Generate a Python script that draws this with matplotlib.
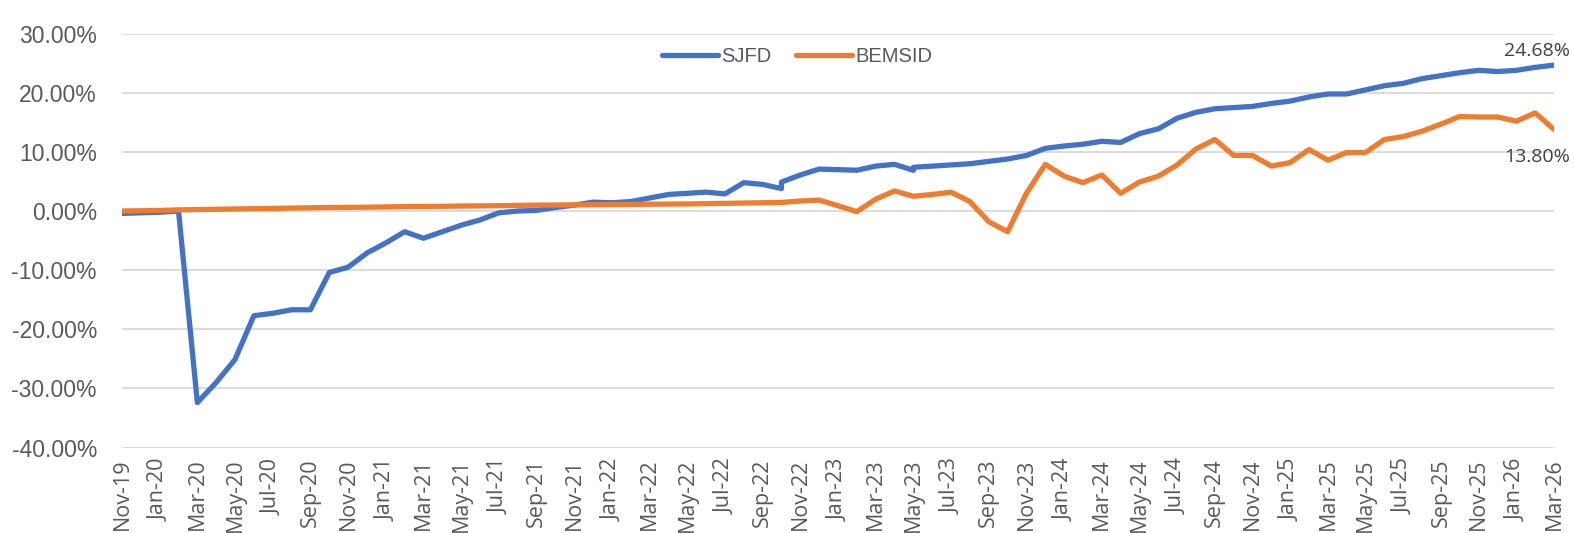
import numpy as np
import matplotlib.pyplot as plt
import pandas as pd

# monthly series, Nov-19 .. Mar-26 (77 months)
months = pd.date_range('2019-11-01', periods=77, freq='MS')

sjfd = [-0.4, -0.3, -0.2, 0.0, -32.4, -29.0, -25.1, -17.7, -17.3, -16.7,
        -16.7, -10.4, -9.5, -7.1, -5.4, -3.5, -4.6, -3.5, -2.4, -1.5,
        -0.3, 0.0, 0.1, 0.6, 1.0, 1.5, 1.4, 1.6, 2.2, 2.8,
        3.0, 3.2, 2.9, 4.8, 4.5, 3.8, 6.1, 7.1, 7.0, 6.9,
        7.6, 7.9, 6.9, 7.6, 7.8, 8.0, 8.4, 8.8, 9.4, 10.6,
        11.0, 11.3, 11.8, 11.6, 13.1, 13.9, 15.7, 16.7, 17.3, 17.5,
        17.7, 18.2, 18.6, 19.3, 19.8, 19.8, 20.5, 21.2, 21.6, 22.4,
        22.9, 23.4, 23.8, 23.6, 23.8, 24.3, 24.68]

# mid-month restatements in SJFD (month index -> value right after the step)
sjfd_steps = {35: 4.9, 42: 7.4}

bemsid = [0.0, 0.05, 0.1, 0.2, 0.25, 0.3, 0.35, 0.4, 0.45, 0.5,
          0.55, 0.6, 0.62, 0.65, 0.7, 0.75, 0.78, 0.8, 0.85, 0.88,
          0.9, 0.95, 1.0, 1.02, 1.05, 1.08, 1.1, 1.12, 1.15, 1.18,
          1.2, 1.25, 1.3, 1.35, 1.4, 1.45, 1.7, 1.85, 0.9, -0.1,
          2.0, 3.4, 2.5, 2.8, 3.2, 1.6, -1.8, -3.5, 3.0, 7.9,
          5.9, 4.8, 6.1, 3.0, 4.9, 5.9, 7.8, 10.5, 12.1, 9.4,
          9.4, 7.6, 8.2, 10.4, 8.6, 9.9, 9.9, 12.1, 12.6, 13.5,
          14.7, 16.0, 15.9, 15.9, 15.2, 16.6, 13.80]

yticks = np.arange(-40, 31, 10)

BLUE = '#4472C4'
ORANGE = '#ED7D31'
GRID = '#D9D9D9'
TXT = '#595959'

# build blue line with the vertical steps inserted
xb, yb = [], []
for i, v in enumerate(sjfd):
    xb.append(i)
    yb.append(v)
    if i in sjfd_steps:
        xb.append(i)
        yb.append(sjfd_steps[i])
xo = np.arange(len(bemsid))

fig = plt.figure(figsize=(15.74, 5.33), dpi=100)
ax = fig.add_axes([0.0775, 0.1604, 0.9098, 0.7764])

ax.plot(xb, yb, color=BLUE, lw=3.8, solid_joinstyle='round', solid_capstyle='round', label='SJFD', zorder=3)
ax.plot(xo, bemsid, color=ORANGE, lw=3.8, solid_joinstyle='round', solid_capstyle='round', label='BEMSID', zorder=3)

ax.set_xlim(0, len(months) - 1)
ax.set_ylim(-40, 30)
ax.set_yticks(yticks)
ax.set_yticklabels(['{:.2f}%'.format(t) for t in yticks], fontsize=16.5,
                   color=TXT, family='Liberation Sans')
ax.set_xticks(np.arange(0, len(months), 2))
ax.set_xticklabels([m.strftime('%b-%y') for m in months[::2]], rotation=90,
                   fontsize=15.5, color=TXT, family='Open Sans', va='top')
ax.tick_params(axis='y', length=0, pad=18)
ax.tick_params(axis='x', length=0, pad=8)
ax.grid(axis='y', color=GRID, lw=1.3)
ax.set_axisbelow(True)
for s in ax.spines.values():
    s.set_visible(False)

# end labels
ax.annotate('24.68%', xy=(xo[-1], sjfd[-1]), xytext=(-12, 6.5), textcoords='offset points',
            ha='center', va='baseline', fontsize=14, color='#404040', family='Open Sans')
ax.annotate('13.80%', xy=(xo[-1], bemsid[-1]), xytext=(-12, -23.5), textcoords='offset points',
            ha='center', va='baseline', fontsize=14, color='#404040', family='Open Sans')

fig.legend(loc='center', bbox_to_anchor=(797 / 1574, 1 - 57 / 533), ncol=2, frameon=False,
           prop={'family': 'Liberation Sans', 'size': 14.5}, handlelength=2.8,
           handletextpad=0.15, columnspacing=1.2, labelcolor=TXT)

plt.savefig('out.png', dpi=100)
